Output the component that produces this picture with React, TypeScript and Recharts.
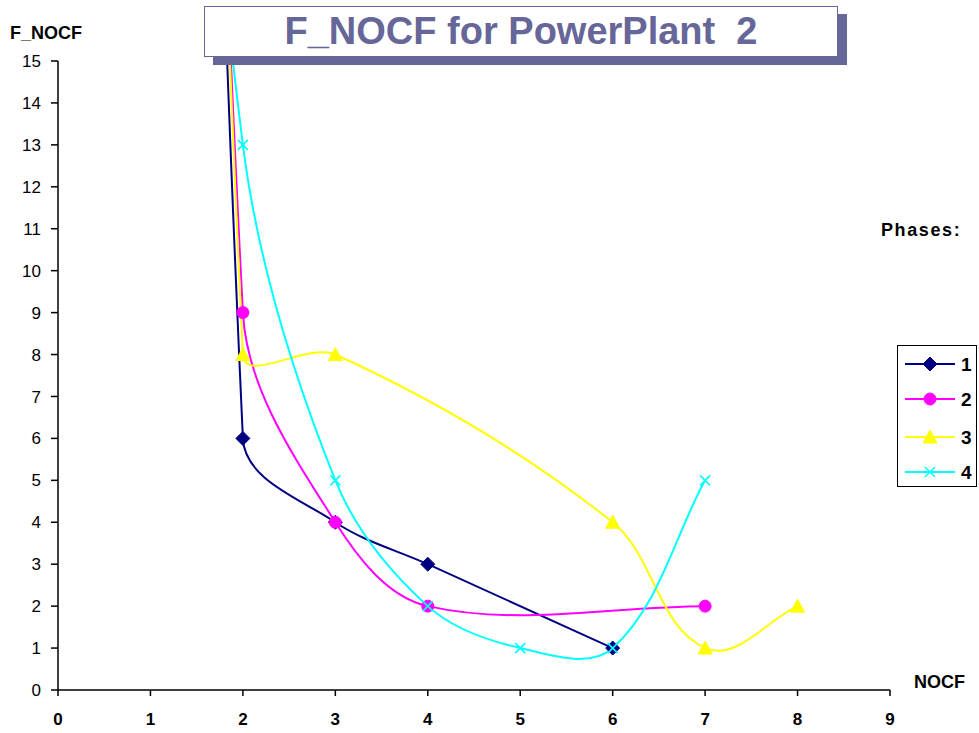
import React from 'react';
import { LineChart, Line, XAxis, YAxis } from 'recharts';

const xTicks = [0, 1, 2, 3, 4, 5, 6, 7, 8, 9];
const yTicks = [0, 1, 2, 3, 4, 5, 6, 7, 8, 9, 10, 11, 12, 13, 14, 15];

const phase1X = [1, 2, 3, 4, 6];
const phase1Y = [100, 6, 4, 3, 1];
const phase2X = [1, 2, 3, 4, 7];
const phase2Y = [90, 9, 4, 2, 2];
const phase3X = [1, 2, 3, 6, 7, 8];
const phase3Y = [100, 8, 8, 4, 1, 2];
const phase4X = [1, 2, 3, 4, 5, 6, 7];
const phase4Y = [40, 13, 5, 2, 1, 1, 5];

const seriesNames = ['1', '2', '3', '4'];
const seriesColors = ['#000080', '#FF00FF', '#FFFF00', '#00FFFF'];

const toRows = (xs: number[], ys: number[]) => xs.map((x, i) => ({ x, y: ys[i] }));
const seriesData = [
  toRows(phase1X, phase1Y),
  toRows(phase2X, phase2Y),
  toRows(phase3X, phase3Y),
  toRows(phase4X, phase4Y),
];

// Excel-like smoothing: cubic Bezier, tangent along (next - prev),
// control distance proportional to the adjacent chord length.
const TENSION = 1 / 3;
class ExcelSmooth {
  _context: any;
  _pts: number[][] = [];
  constructor(ctx: any) {
    this._context = ctx;
  }
  areaStart() {}
  areaEnd() {}
  lineStart() {
    this._pts = [];
  }
  point(x: number, y: number) {
    this._pts.push([+x, +y]);
  }
  lineEnd() {
    const p = this._pts;
    const c = this._context;
    const n = p.length;
    if (!n) return;
    const dirs = p.map((_, i) => {
      const a = p[Math.max(0, i - 1)];
      const b = p[Math.min(n - 1, i + 1)];
      const dx = b[0] - a[0];
      const dy = b[1] - a[1];
      const len = Math.hypot(dx, dy) || 1;
      return [dx / len, dy / len];
    });
    c.moveTo(p[0][0], p[0][1]);
    for (let i = 0; i < n - 1; i++) {
      const p1 = p[i];
      const p2 = p[i + 1];
      const seg = Math.hypot(p2[0] - p1[0], p2[1] - p1[1]);
      const d = seg * TENSION;
      const c1x = p1[0] + dirs[i][0] * d;
      const c1y = p1[1] + dirs[i][1] * d;
      const c2x = p2[0] - dirs[i + 1][0] * d;
      const c2y = p2[1] - dirs[i + 1][1] * d;
      c.bezierCurveTo(c1x, c1y, c2x, c2y, p2[0], p2[1]);
    }
  }
}
const excelCurve: any = (ctx: any) => new ExcelSmooth(ctx);

const Marker = ({ kind, cx, cy }: { kind: number; cx: number; cy: number }) => {
  if (kind === 0) {
    return (
      <polygon
        points={`${cx},${cy - 7} ${cx + 7},${cy} ${cx},${cy + 7} ${cx - 7},${cy}`}
        fill="#000080"
        stroke="#000080"
      />
    );
  }
  if (kind === 1) {
    return <circle cx={cx} cy={cy} r={6} fill="#FF00FF" stroke="#FF00FF" />;
  }
  if (kind === 2) {
    return (
      <polygon
        points={`${cx},${cy - 7} ${cx + 7},${cy + 6} ${cx - 7},${cy + 6}`}
        fill="#FFFF00"
        stroke="#FFFF00"
      />
    );
  }
  return (
    <g stroke="#00FFFF" strokeWidth={1.6}>
      <line x1={cx - 5} y1={cy - 5} x2={cx + 5} y2={cy + 5} />
      <line x1={cx - 5} y1={cy + 5} x2={cx + 5} y2={cy - 5} />
    </g>
  );
};

const makeDot = (kind: number) => (props: any) => {
  const { cx, cy, index } = props;
  if (cx == null || cy == null || isNaN(cx) || isNaN(cy)) return <g key={`e-${kind}-${index}`} />;
  return (
    <g key={`d-${kind}-${index}`}>
      <Marker kind={kind} cx={cx} cy={cy} />
    </g>
  );
};

const font = 'Arial, "Liberation Sans", sans-serif';

export default function App() {
  return (
    <div
      style={{
        position: 'absolute',
        left: 0,
        top: 0,
        width: 979,
        height: 733,
        background: '#fff',
        overflow: 'hidden',
        fontFamily: font,
      }}
    >
      <LineChart width={979} height={733} margin={{ top: 61, right: 89, bottom: 0, left: 0 }}>
        <XAxis
          type="number"
          dataKey="x"
          domain={[0, 9]}
          ticks={xTicks}
          interval={0}
          height={43}
          tickSize={6}
          tickMargin={17}
          axisLine={{ stroke: '#000', strokeWidth: 1.5 }}
          tickLine={{ stroke: '#000', strokeWidth: 1.5 }}
          tick={{ fill: '#000', fontSize: 17, fontWeight: 'bold', fontFamily: font }}
          allowDuplicatedCategory={false}
        />
        <YAxis
          type="number"
          dataKey="y"
          domain={[0, 15]}
          ticks={yTicks}
          interval={0}
          allowDataOverflow
          width={58}
          tickSize={7}
          tickMargin={10}
          axisLine={{ stroke: '#000', strokeWidth: 1.5 }}
          tickLine={{ stroke: '#000', strokeWidth: 1.5 }}
          tick={{ fill: '#000', fontSize: 17, fontFamily: font }}
        />
        {seriesData.map((d, i) => (
          <Line
            key={seriesNames[i]}
            data={d}
            dataKey="y"
            name={seriesNames[i]}
            type={excelCurve}
            stroke={seriesColors[i]}
            strokeWidth={2}
            dot={makeDot(i)}
            activeDot={false}
            isAnimationActive={false}
          />
        ))}
      </LineChart>

      {/* Title */}
      <div
        style={{
          position: 'absolute',
          left: 204,
          top: 6,
          width: 632,
          height: 49,
          border: '1px solid #666699',
          boxShadow: '9px 8px 0 #666699',
          background: 'transparent',
          display: 'flex',
          alignItems: 'center',
          justifyContent: 'center',
          color: '#666699',
          fontWeight: 'bold',
          fontSize: 38,
          whiteSpace: 'pre',
        }}
      >
        {'F_NOCF for PowerPlant  2'}
      </div>

      {/* Axis titles */}
      <div style={{ position: 'absolute', left: 10, top: 23, fontSize: 18, fontWeight: 'bold', color: '#000' }}>
        F_NOCF
      </div>
      <div style={{ position: 'absolute', left: 914, top: 672, fontSize: 18, fontWeight: 'bold', color: '#000' }}>
        NOCF
      </div>
      <div
        style={{
          position: 'absolute',
          left: 881,
          top: 220,
          fontSize: 18,
          fontWeight: 'bold',
          color: '#000',
          letterSpacing: 1.6,
        }}
      >
        Phases:
      </div>

      {/* Legend */}
      <div
        style={{
          position: 'absolute',
          left: 897,
          top: 345,
          width: 80,
          height: 142,
          border: '1.5px solid #000',
          boxSizing: 'border-box',
          background: '#fff',
        }}
      >
        <svg width={80} height={142} style={{ position: 'absolute', left: -1.5, top: -1.5 }}>
          {seriesNames.map((n, i) => {
            const y = [19, 54, 92, 127][i];
            return (
              <g key={n}>
                <line x1={8} y1={y} x2={58} y2={y} stroke={seriesColors[i]} strokeWidth={2} />
                <Marker kind={i} cx={33} cy={y} />
                <text
                  x={64}
                  y={y}
                  dy="0.36em"
                  fontSize={19}
                  fontWeight="bold"
                  fontFamily={font}
                  fill="#000"
                >
                  {n}
                </text>
              </g>
            );
          })}
        </svg>
      </div>
    </div>
  );
}
